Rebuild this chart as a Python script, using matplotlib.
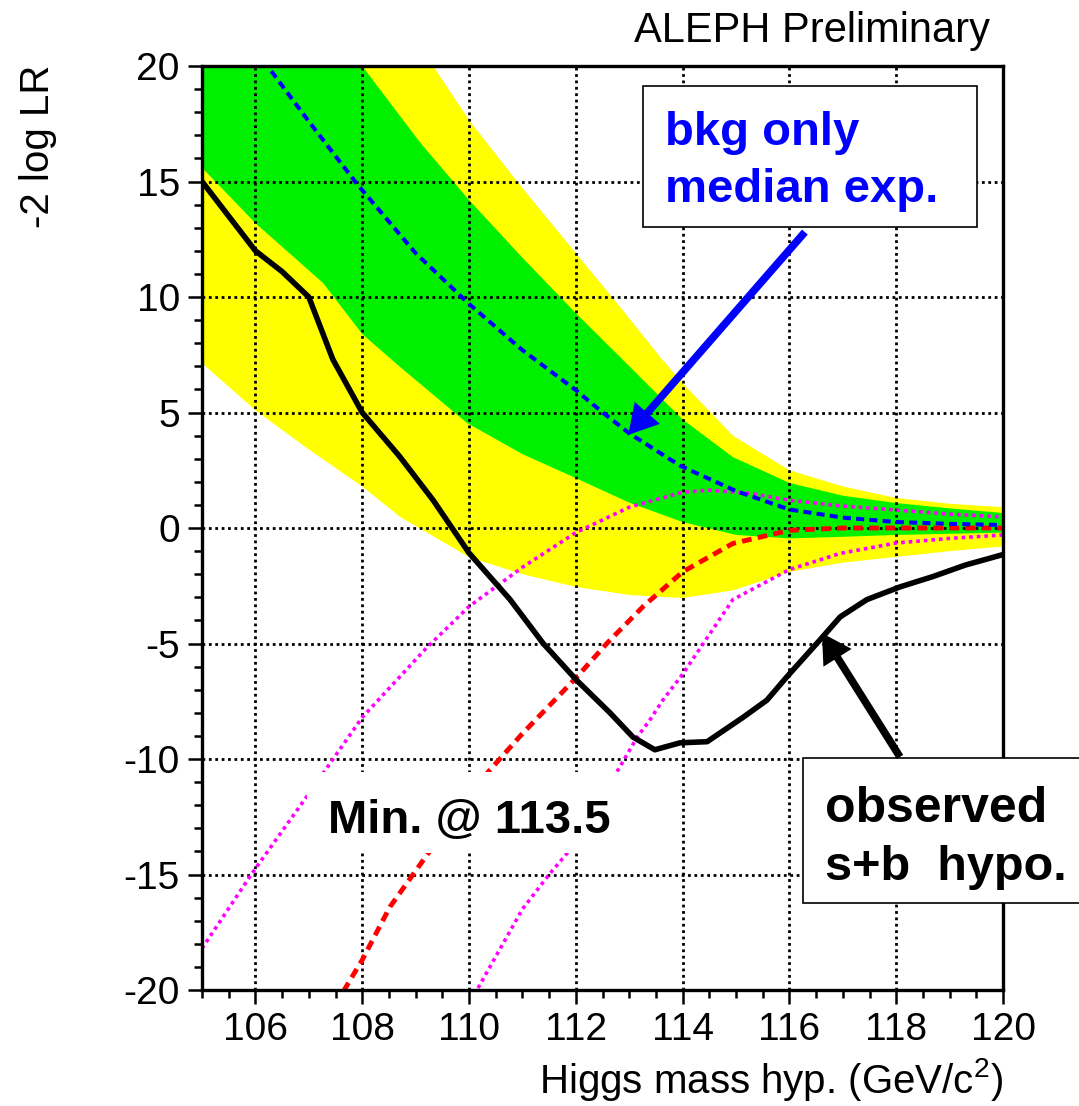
import numpy as np
import matplotlib.pyplot as plt
from matplotlib.patches import Rectangle, FancyArrowPatch
from matplotlib.ticker import MultipleLocator

plt.rcParams['font.family'] = 'Liberation Sans'
plt.rcParams['mathtext.fontset'] = 'custom'
plt.rcParams['mathtext.rm'] = 'Liberation Sans'
plt.rcParams['axes.unicode_minus'] = False

# observed -2lnQ
obs_m = [105, 105.5, 106, 106.5, 107, 107.45, 108, 108.7, 109.33, 110, 110.77, 111.39,
         112.02, 112.64, 113.07, 113.48, 113.95, 114.46, 115.13, 115.58, 115.95, 116.57,
         116.95, 117.45, 118.07, 118.69, 119.3, 120]
obs_q = [15.0, 13.5, 12.0, 11.1, 10.0, 7.3, 5.0, 3.1, 1.2, -1.08, -3.1, -5.0,
         -6.6, -8.0, -9.05, -9.6, -9.3, -9.25, -8.2, -7.45, -6.45, -4.85,
         -3.85, -3.1, -2.55, -2.1, -1.6, -1.15]

# background-only median expectation
bkg_m = [106.0, 107.0, 107.9, 109.0, 110.0, 111.0, 112.0, 112.45, 113.0, 113.95,
         115.0, 116.0, 117.0, 118.0, 119.0, 120.0]
bkg_q = [20.7, 17.6, 14.9, 11.9, 9.7, 7.7, 5.97, 5.1, 4.1, 2.7,
         1.6, 0.8, 0.45, 0.26, 0.18, 0.13]

# 1 sigma band
s1_up_m = [105, 106.5, 108.0, 109.08, 110, 111, 112, 112.83, 114.0, 114.94, 116, 117, 118, 119, 120]
s1_up_q = [30, 25, 20.0, 16.7, 14.2, 11.7, 9.3, 7.4, 4.7, 3.07, 1.95, 1.4, 1.08, 0.85, 0.65]
s1_lo_m = [105, 106, 107.27, 108, 108.71, 109.96, 111, 112, 113, 114, 115, 116, 117, 118, 119, 120]
s1_lo_q = [15.6, 13.2, 10.6, 8.4, 6.97, 4.55, 3.2, 2.16, 1.1, 0.26, -0.3, -0.45, -0.38, -0.3, -0.25, -0.2]

# 2 sigma band
s2_up_m = [105, 108, 109.33, 110, 110.9, 112, 112.83, 113.58, 114, 114.94, 116, 117, 118, 119, 120]
s2_up_q = [40, 25, 20, 17.66, 15.0, 11.9, 9.57, 7.4, 6.27, 4.0, 2.5, 1.8, 1.3, 1.05, 0.9]
s2_lo_m = [105, 106, 107, 108, 108.71, 110, 111, 112, 113, 114, 114.94, 116, 117, 118, 119, 120]
s2_lo_q = [7.14, 5.1, 3.4, 1.8, 0.48, -1.26, -2.0, -2.55, -2.9, -3.03, -2.7, -1.9, -1.5, -1.25, -1.0, -0.8]

# signal+background expectation
sb_m = [107.65, 108.0, 108.52, 109.23, 110.36, 111.0, 112.0, 112.58, 113.26, 114.0,
        114.94, 116.0, 117.0, 118.0, 120.0]
sb_q = [-20.05, -18.7, -16.4, -14.1, -10.56, -8.9, -6.5, -5.0, -3.4, -1.9,
        -0.67, -0.1, 0.0, 0.0, 0.0]

# magenta contours
mu_m = [105, 105.94, 106.97, 108.0, 109.2, 110.0, 111.0, 112.0, 113.0, 114.0, 114.5,
        115.26, 116.0, 117.0, 118.0, 119.0, 120.0]
mu_q = [-18.2, -14.94, -11.6, -8.2, -5.2, -3.4, -1.7, -0.2, 0.9, 1.55, 1.64,
        1.5, 1.2, 0.95, 0.78, 0.6, 0.48]
ml_m = [110.1, 111.0, 111.5, 111.83, 112.77, 113.15, 113.39, 113.63, 114.01, 114.94,
        116.0, 116.95, 118.0, 119.0, 120.0]
ml_q = [-20.2, -16.5, -15.0, -14.1, -10.56, -9.05, -8.3, -7.45, -6.3, -3.1,
        -1.8, -1.1, -0.65, -0.45, -0.3]

fig = plt.figure(figsize=(10.79, 11.06), dpi=100)
ax = fig.add_axes([0.18721, 0.10488, 0.74236, 0.83544])

ax.fill(np.concatenate([s2_up_m, s2_lo_m[::-1]]), np.concatenate([s2_up_q, s2_lo_q[::-1]]),
        color='#ffff00', lw=0, zorder=1)
ax.fill(np.concatenate([s1_up_m, s1_lo_m[::-1]]), np.concatenate([s1_up_q, s1_lo_q[::-1]]),
        color='#00f000', lw=0, zorder=1.1)

ax.plot(mu_m, mu_q, color='#ff00ff', lw=2.6, dashes=(1, 1.1), zorder=2)
ax.plot(ml_m, ml_q, color='#ff00ff', lw=2.6, dashes=(1, 1.1), zorder=2)
ax.plot(sb_m, sb_q, color='#ff0000', lw=3.5, dashes=(2.0, 1.3), zorder=2.1)
ax.plot(bkg_m, bkg_q, color='#0000ff', lw=2.9, dashes=(2.0, 1.3), zorder=2.2)
ax.plot(obs_m, obs_q, color='black', lw=4.0, zorder=2.3)

ax.set_xlim(105, 120)
ax.set_ylim(-20, 20)
ax.xaxis.set_major_locator(MultipleLocator(2))
ax.xaxis.set_minor_locator(MultipleLocator(0.5))
ax.yaxis.set_major_locator(MultipleLocator(5))
ax.yaxis.set_minor_locator(MultipleLocator(1))
ax.set_xticks([106, 108, 110, 112, 114, 116, 118, 120])
ax.set_axisbelow('line')
ax.grid(True, which='major', color='black', lw=2.0, linestyle=(0, (1, 1.3)))

ax.tick_params(which='major', direction='out', length=10, width=1.8, labelsize=28, pad=6)
ax.tick_params(which='minor', direction='out', length=5.5, width=1.8)
for s in ax.spines.values():
    s.set_linewidth(2.4)

fig.text(0.9175, 1 - 42 / 1106, 'ALEPH Preliminary', fontsize=30, ha='right', va='baseline')
fig.text(38 / 1079, 1 - 65 / 1106, '-2 log LR', fontsize=29, rotation=90, ha='center', va='top')
fig.text(1003 / 1079, 1 - 1093 / 1106, 'Higgs mass hyp. (GeV/c$^2$)', fontsize=29,
         ha='right', va='baseline')

# label at the minimum, masking lines behind it
ax.add_patch(Rectangle((106.97, -14.07), 5.95, 3.51, facecolor='white', edgecolor='none', zorder=4))
ax.text(107.36, -13.2, 'Min. @ 113.5', fontsize=34, fontweight='bold', ha='left', va='baseline', zorder=4.5)

# background-only box
ax.add_patch(Rectangle((113.26, 13.03), 6.25, 6.1, facecolor='white', edgecolor='black', lw=1.2, zorder=5))
ax.text(113.67, 16.58, 'bkg only', fontsize=34, fontweight='bold', color='#0000ff', va='baseline', zorder=6)
ax.text(113.67, 14.11, 'median exp.', fontsize=34, fontweight='bold', color='#0000ff', va='baseline', zorder=6)

# observed box
ax.add_patch(Rectangle((116.25, -16.23), 5.4, 6.27, facecolor='white', edgecolor='black', lw=1.2,
                       zorder=5, clip_on=False))
ax.text(116.67, -12.73, 'observed', fontsize=36, fontweight='bold', va='baseline', zorder=6, clip_on=False)
ax.text(116.67, -15.24, 's+b  hypo.', fontsize=35, fontweight='bold', va='baseline', zorder=6, clip_on=False)

arrow_style = 'simple,head_length=21,head_width=24,tail_width=5.5'
ax.add_patch(FancyArrowPatch((116.29, 12.81), (112.98, 4.03), arrowstyle=arrow_style,
                             mutation_scale=1, color='#0000ff', lw=0, shrinkA=0, shrinkB=0, zorder=6))
ax.add_patch(FancyArrowPatch((118.07, -9.91), (116.61, -4.55), arrowstyle=arrow_style,
                             mutation_scale=1, color='black', lw=0, shrinkA=0, shrinkB=0, zorder=6))

fig.savefig('out.png', dpi=100)
